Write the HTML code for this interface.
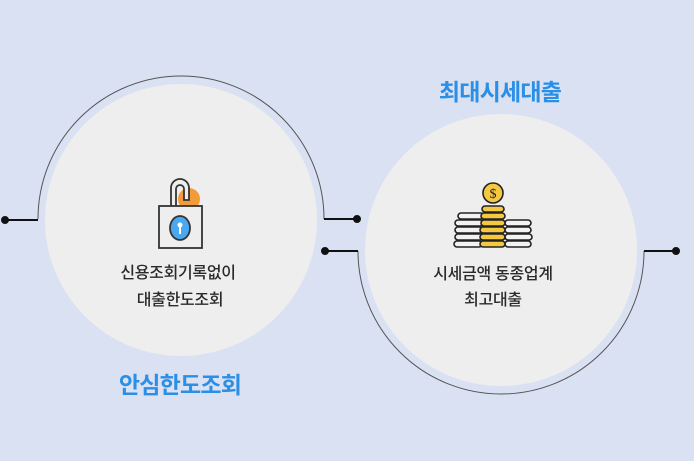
<!DOCTYPE html>
<html><head><meta charset="utf-8"><style>
html,body{margin:0;padding:0}
body{width:694px;height:461px;background:#dae1f2;position:relative;overflow:hidden;font-family:"Liberation Sans","Noto Sans CJK KR",sans-serif}
.t{position:absolute;text-align:center;white-space:nowrap}
.d{color:#2a2a2a;font-size:16px;letter-spacing:-0.3px;font-weight:500}
.b{color:#2b8fe6;font-size:23px;font-weight:bold;letter-spacing:-0.8px}
</style></head><body>
<svg width="694" height="461" style="position:absolute;left:0;top:0">
<circle cx="181" cy="220" r="136" fill="#eeeeee"/>
<circle cx="501" cy="250" r="136" fill="#eeeeee"/>
<path d="M38 219 A143 143 0 0 1 324 219" fill="none" stroke="#555" stroke-width="1"/>
<path d="M358 251 A143 143 0 0 0 644 251" fill="none" stroke="#555" stroke-width="1"/>
<g stroke="#111" stroke-width="2" fill="#111">
<line x1="5" y1="220" x2="38" y2="220"/><circle cx="5" cy="220" r="3"/>
<line x1="324" y1="219" x2="357" y2="219"/><circle cx="357" cy="219" r="3"/>
<line x1="325" y1="251" x2="358" y2="251"/><circle cx="325" cy="251" r="3"/>
<line x1="644" y1="251" x2="676" y2="251"/><circle cx="676" cy="251" r="3"/>
</g>
<circle cx="189" cy="199" r="11" fill="#f39a3a"/>
<path d="M171 207 V188 a9 9 0 0 1 18 0 V200 h-5 V189 a4 4 0 0 0 -8 0 V207Z" fill="#eee" stroke="#333" stroke-width="1.8"/>
<rect x="159" y="206" width="43" height="42" fill="#eee" stroke="#333" stroke-width="1.8"/>
<ellipse cx="180" cy="228" rx="10" ry="12" fill="#4aa8f0" stroke="#333" stroke-width="1.8"/>
<circle cx="180" cy="225" r="2.5" fill="#fff"/><rect x="179" y="226" width="2" height="8" fill="#fff"/>
<g stroke="#222" stroke-width="1.6">
<rect x="454" y="241" width="28" height="6" rx="3" fill="#f2f2f2"/>
<rect x="455" y="234" width="28" height="6" rx="3" fill="#f2f2f2"/>
<rect x="455" y="227" width="28" height="6" rx="3" fill="#f2f2f2"/>
<rect x="455" y="220" width="28" height="6" rx="3" fill="#f2f2f2"/>
<rect x="458" y="213" width="26" height="6" rx="3" fill="#f2f2f2"/>
<rect x="505" y="241" width="26" height="6" rx="3" fill="#f2f2f2"/>
<rect x="505" y="234" width="27" height="6" rx="3" fill="#f2f2f2"/>
<rect x="505" y="227" width="26" height="6" rx="3" fill="#f2f2f2"/>
<rect x="505" y="220" width="26" height="6" rx="3" fill="#f2f2f2"/>
<rect x="480" y="241" width="25" height="6" rx="3" fill="#f5c842"/>
<rect x="480" y="234" width="25" height="6" rx="3" fill="#f5c842"/>
<rect x="480" y="227" width="25" height="6" rx="3" fill="#f5c842"/>
<rect x="481" y="220" width="24" height="6" rx="3" fill="#f5c842"/>
<rect x="481" y="213" width="24" height="6" rx="3" fill="#f5c842"/>
<rect x="482" y="206" width="22" height="6" rx="3" fill="#f5c842"/>
<circle cx="493" cy="193" r="10" fill="#f5c842"/>
</g>
<text x="493" y="198" font-size="14" text-anchor="middle" fill="#222" font-family="Liberation Serif">$</text>
</svg>
<div class="t d" style="left:98px;width:160px;top:259px">신용조회기록없이</div>
<div class="t d" style="left:100px;width:160px;top:286px">대출한도조회</div>
<div class="t b" style="left:100px;width:160px;top:366px">안심한도조회</div>
<div class="t b" style="left:420px;width:160px;top:73px">최대시세대출</div>
<div class="t d" style="left:408px;width:170px;top:260px">시세금액 동종업계</div>
<div class="t d" style="left:408px;width:170px;top:286px">최고대출</div>
</body></html>
